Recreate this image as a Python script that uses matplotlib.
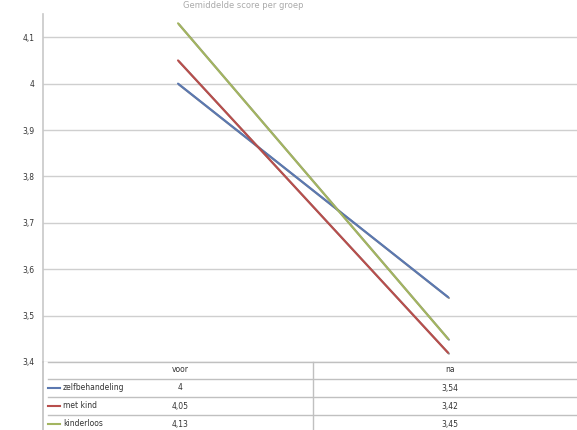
import numpy as np
import matplotlib
matplotlib.use('Agg')
import matplotlib.pyplot as plt
import matplotlib.patheffects as pe

# Data
categories = ['voor', 'na']
groups = ['zelfbehandeling', 'met kind', 'kinderloos']
zelfbehandeling = [4.0, 3.54]
met_kind = [4.05, 3.42]
kinderloos = [4.13, 3.45]
series = [zelfbehandeling, met_kind, kinderloos]
colors = ['#5B78B0', '#B84E4C', '#A3B560']
yticks = [3.4, 3.5, 3.6, 3.7, 3.8, 3.9, 4.0, 4.1]

W, H = 577, 430
fig = plt.figure(figsize=(W / 100, H / 100), dpi=100)

def fx(px):
    return px / W

def fy(py):
    return 1 - py / H

# plot area (pixels): left 43, right 583, top 14, bottom 362
ax = fig.add_axes([fx(43), fy(362), fx(540), (362 - 14) / H])
x = np.arange(len(categories))
for vals, col in zip(series, colors):
    ax.plot(x, vals, color=col, lw=1.5, solid_capstyle='round',
            path_effects=[pe.SimpleLineShadow(offset=(0.7, -0.7), shadow_color='#444444', alpha=0.6),
                          pe.Normal()])

ax.set_xlim(-0.5, 1.5)
ax.set_ylim(3.4, 4.15)
ax.set_yticks(yticks)
ax.set_yticklabels([f'{t:g}'.replace('.', ',') for t in yticks], fontsize=5.5, color='#333333')
ax.set_xticks([])
ax.grid(axis='y', color='#cfcfcf', lw=1)
ax.set_axisbelow(True)
for s in ['top', 'right', 'bottom']:
    ax.spines[s].set_visible(False)
ax.spines['left'].set_color('#c8c8c8')
ax.spines['left'].set_linewidth(1.2)
ax.tick_params(axis='y', length=0, pad=6)

# title
fig.text(fx(243), fy(6), 'Gemiddelde score per groep', ha='center', va='center',
         fontsize=6, color='#aaaaaa')

# data table below the plot
lc = '#c0c0c0'
fig.add_artist(plt.Line2D([fx(43), fx(43)], [fy(362), fy(430)], color=lc, lw=1.2))
for py in [362, 379, 397, 415]:
    fig.add_artist(plt.Line2D([fx(48), 1], [fy(py), fy(py)], color=lc, lw=1))
fig.add_artist(plt.Line2D([fx(313), fx(313)], [fy(362), fy(430)], color=lc, lw=1))

col_x = [180, 450]
for cx, cat in zip(col_x, categories):
    fig.text(fx(cx), fy(370), cat, ha='center', va='center', fontsize=5.5, color='#333333')

row_y = [388, 406, 424]
for ry, name, vals, col in zip(row_y, groups, series, colors):
    fig.add_artist(plt.Line2D([fx(48), fx(60)], [fy(ry), fy(ry)], color=col, lw=1.5))
    fig.text(fx(63), fy(ry), name, ha='left', va='center', fontsize=5.5, color='#333333')
    for cx, v in zip(col_x, vals):
        fig.text(fx(cx), fy(ry), f'{v:g}'.replace('.', ','), ha='center', va='center',
                 fontsize=5.5, color='#333333')

fig.savefig('out.png', dpi=100)
